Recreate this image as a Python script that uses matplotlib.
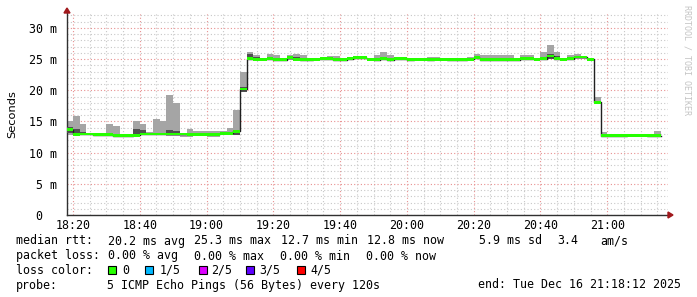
import numpy as np
import matplotlib
matplotlib.use("Agg")
import matplotlib.pyplot as plt
from matplotlib.patches import Polygon, Rectangle
from matplotlib.ticker import MultipleLocator, FixedLocator

# time in minutes after 18:00, one bucket every 2 minutes starting at 18:18
first_bucket = 18
bucket_len = 2
x_left = 18.2     # 18:18:12
x_right = 198.2   # 21:18:12

# rtt values in ms
median = [13.7, 12.95, 13.0, 13.0, 12.9, 12.9, 12.9, 12.75, 12.7, 12.7,
          12.8, 13.0, 13.0, 13.0, 13.0, 13.0, 13.0, 13.0, 12.95, 12.95,
          12.95, 12.95, 12.95, 13.1, 13.1, 13.4, 20.2, 25.1, 25.0, 24.95,
          25.1, 24.9, 24.9, 25.2, 25.0, 24.9, 24.9, 25.0, 25.1, 25.1,
          24.9, 24.9, 25.1, 25.2, 25.2, 25.0, 24.9, 25.1, 24.9, 25.1,
          25.1, 24.9, 25.0, 25.0, 24.9, 25.0, 25.0, 24.9, 24.9, 24.9,
          25.0, 25.2, 24.9, 24.9, 24.9, 24.9, 24.9, 24.9, 25.1, 25.1,
          25.0, 25.1, 25.5, 25.1, 25.0, 25.1, 25.35, 25.35, 24.95, 18.1,
          12.7, 12.7, 12.7, 12.7, 12.8, 12.8, 12.8, 12.7, 12.75]

rtt_max = [15.0, 15.8, 14.6, 13.2, 13.1, 13.0, 14.6, 14.3, 12.9, 12.9,
           15.1, 14.6, 13.3, 15.4, 15.0, 19.25, 17.9, 13.15, 13.8, 13.5,
           13.5, 13.5, 13.5, 13.5, 14.0, 16.8, 23.0, 26.2, 25.6, 25.2,
           25.9, 25.7, 25.1, 25.7, 25.9, 25.6, 25.1, 25.2, 25.4, 25.5,
           25.5, 25.1, 25.3, 25.3, 25.3, 25.2, 25.7, 26.15, 25.6, 25.2,
           25.2, 25.1, 25.1, 25.1, 25.4, 25.4, 25.2, 25.1, 25.1, 25.1,
           25.4, 25.9, 25.6, 25.6, 25.6, 25.7, 25.7, 25.1, 25.7, 25.7,
           25.2, 26.1, 27.3, 26.1, 25.2, 25.7, 25.9, 25.5, 25.1, 19.0,
           13.3, 12.9, 12.9, 12.9, 13.0, 13.0, 13.0, 12.9, 13.5]

rtt_min = [12.9, 12.7, 12.8, 12.8, 12.8, 12.8, 12.7, 12.5, 12.5, 12.5,
           12.6, 12.8, 12.8, 12.8, 12.8, 12.6, 12.6, 12.5, 12.5, 12.7,
           12.7, 12.5, 12.5, 12.8, 12.8, 12.8, 19.9, 24.8, 24.8, 24.8,
           24.9, 24.7, 24.7, 24.9, 24.7, 24.7, 24.7, 24.8, 24.9, 24.9,
           24.7, 24.7, 24.9, 25.0, 25.0, 24.8, 24.7, 24.9, 24.7, 24.9,
           24.9, 24.7, 24.8, 24.8, 24.7, 24.8, 24.8, 24.7, 24.7, 24.7,
           24.8, 25.0, 24.7, 24.7, 24.7, 24.7, 24.7, 24.7, 24.9, 24.9,
           24.8, 24.8, 25.1, 24.9, 24.8, 24.9, 25.1, 25.1, 24.7, 17.9,
           12.5, 12.5, 12.5, 12.5, 12.6, 12.6, 12.6, 12.5, 12.6]

# 2nd and 4th of the five pings
inner_lo = [13.1, 13.1, 13.0, 12.9, 12.8, 12.8, 12.8, 12.7, 12.6, 12.6,
            13.0, 13.0, 12.9, 12.9, 12.9, 13.0, 13.0, 12.9, 12.9, 12.9,
            12.9, 12.9, 12.9, 13.0, 13.0, 12.9, 19.8, 25.1, 25.0, 24.9,
            25.0, 24.8, 24.8, 25.1, 25.0, 24.8, 24.8, 24.9, 25.0, 25.0,
            24.8, 24.8, 25.0, 25.1, 25.1, 24.9, 24.8, 25.0, 24.8, 25.0,
            25.0, 24.8, 24.9, 24.9, 24.8, 24.9, 24.9, 24.8, 24.8, 24.8,
            24.9, 25.1, 24.8, 24.8, 24.8, 24.8, 24.8, 24.8, 25.0, 25.0,
            24.9, 25.0, 25.1, 25.1, 24.9, 25.0, 25.3, 25.3, 24.9, 18.0,
            12.6, 12.6, 12.6, 12.6, 12.7, 12.7, 12.7, 12.6, 12.7]

inner_hi = [14.1, 13.8, 13.3, 13.1, 13.0, 13.0, 13.0, 12.8, 12.8, 12.8,
            13.8, 13.6, 13.1, 13.1, 13.1, 13.6, 13.5, 13.1, 13.0, 13.0,
            13.0, 13.0, 13.0, 13.2, 13.2, 13.6, 20.5, 25.9, 25.4, 25.0,
            25.2, 25.0, 25.0, 25.3, 25.3, 25.0, 25.0, 25.1, 25.2, 25.2,
            25.0, 25.0, 25.2, 25.3, 25.3, 25.1, 25.0, 25.2, 25.0, 25.2,
            25.2, 25.0, 25.1, 25.1, 25.0, 25.1, 25.1, 25.0, 25.0, 25.0,
            25.1, 25.3, 25.0, 25.0, 25.0, 25.0, 25.0, 25.0, 25.2, 25.2,
            25.1, 25.2, 25.8, 25.5, 25.1, 25.2, 25.4, 25.4, 25.0, 18.2,
            12.8, 12.8, 12.8, 12.8, 12.9, 12.9, 12.9, 12.8, 12.8]

time_ticks = [20, 40, 60, 80, 100, 120, 140, 160, 180]
time_labels = ["18:20", "18:40", "19:00", "19:20", "19:40", "20:00", "20:20", "20:40", "21:00"]
y_ticks = [0, 5, 10, 15, 20, 25, 30]
y_labels = ["0  ", "5 m", "10 m", "15 m", "20 m", "25 m", "30 m"]

loss_names = ["0", "1/5", "2/5", "3/5", "4/5"]
loss_colors = ["#26ff00", "#00b8ff", "#dd00ff", "#5e00ff", "#ff0000"]

W, H = 697, 297
mono = "DejaVu Sans Mono"


def fx(x):
    return x / W


def fy(y):
    return 1 - y / H


fig = plt.figure(figsize=(W / 100, H / 100), dpi=100)
ax = fig.add_axes([fx(67), fy(215), (668 - 67) / W, (215 - 13) / H])

n = len(median)
edges = first_bucket + bucket_len * np.arange(n + 1)


def ext(a):
    a = np.asarray(a, dtype=float)
    return np.append(a, a[-1])


med = ext(median)
half = 0.23

ax.fill_between(edges, ext(rtt_min), ext(rtt_max), step="post",
                color="#a5a5a5", lw=0, zorder=2)
ax.fill_between(edges, ext(inner_lo), ext(inner_hi), step="post",
                color="#505050", lw=0, zorder=3)
ax.step(edges, med, where="post", color="#202020", lw=1, zorder=4)
ax.fill_between(edges, med - half, med + half, step="post",
                color=loss_colors[0], lw=0, zorder=5)

ax.set_xlim(x_left, x_right)
ax.set_ylim(0, 32.4)

# grid
ax.xaxis.set_major_locator(FixedLocator(time_ticks))
ax.xaxis.set_minor_locator(MultipleLocator(5))
ax.yaxis.set_major_locator(FixedLocator(y_ticks))
ax.yaxis.set_minor_locator(MultipleLocator(1))
ax.grid(which="minor", color="#c8c8c8", lw=0.8, ls=(0, (1, 2)), zorder=0)
ax.grid(which="major", color="#e89090", lw=0.8, ls=(0, (1, 2)), zorder=1)
ax.set_axisbelow(True)

ax.set_xticklabels(time_labels, fontfamily=mono, fontsize=8.4)
ax.set_yticklabels(y_labels, fontfamily=mono, fontsize=8.4)
ax.tick_params(which="both", length=0, pad=7)
ax.tick_params(axis="x", pad=3)

for s in ["top", "right"]:
    ax.spines[s].set_visible(False)
for s in ["left", "bottom"]:
    ax.spines[s].set_color("#303030")
    ax.spines[s].set_linewidth(1)

ax.set_ylabel("Seconds", fontsize=8.2)
ax.yaxis.set_label_coords(-(67 - 17) / 601, 0.5)

# axis arrows
arrow_col = "#a0181c"
fig.add_artist(Polygon([(fx(64), fy(13)), (fx(70), fy(13)), (fx(67), fy(8))],
                       closed=True, color=arrow_col, transform=fig.transFigure))
fig.add_artist(Polygon([(fx(668), fy(212)), (fx(668), fy(218)), (fx(673), fy(215))],
                       closed=True, color=arrow_col, transform=fig.transFigure))

fig.text(fx(687), fy(5), "RRDTOOL / TOBI OETIKER", rotation=270, fontfamily=mono,
         fontsize=6, color="#c4c4c4", ha="center", va="top")

# legend / comments
def txt(x, y, s, **kw):
    fig.text(fx(x), fy(y), s, fontfamily=mono, fontsize=8.4, va="center", **kw)


txt(16, 241, "median rtt:")
txt(108, 241, "20.2 ms avg")
txt(194, 241, "25.3 ms max")
txt(281, 241, "12.7 ms min")
txt(367, 241, "12.8 ms now")
txt(479, 241, "5.9 ms sd")
txt(557, 241, "3.4")
txt(600, 241, "am/s")

txt(16, 256, "packet loss:")
txt(108, 256, "0.00 % avg")
txt(194, 256, "0.00 % max")
txt(280, 256, "0.00 % min")
txt(366, 256, "0.00 % now")

txt(16, 270, "loss color:")
box_x = [108, 145, 199, 246, 297]
lab_x = [122, 160, 211, 259, 310]
for bx, lx, name, col in zip(box_x, lab_x, loss_names, loss_colors):
    fig.add_artist(Rectangle((fx(bx), fy(274)), 8 / W, 8 / H, facecolor=col,
                             edgecolor="black", lw=0.8, transform=fig.transFigure))
    txt(lx, 270, name)

txt(16, 285, "probe:")
txt(107, 285, "5 ICMP Echo Pings (56 Bytes) every 120s")
txt(681, 285, "end: Tue Dec 16 21:18:12 2025", ha="right")

fig.savefig("out.png", dpi=100)
